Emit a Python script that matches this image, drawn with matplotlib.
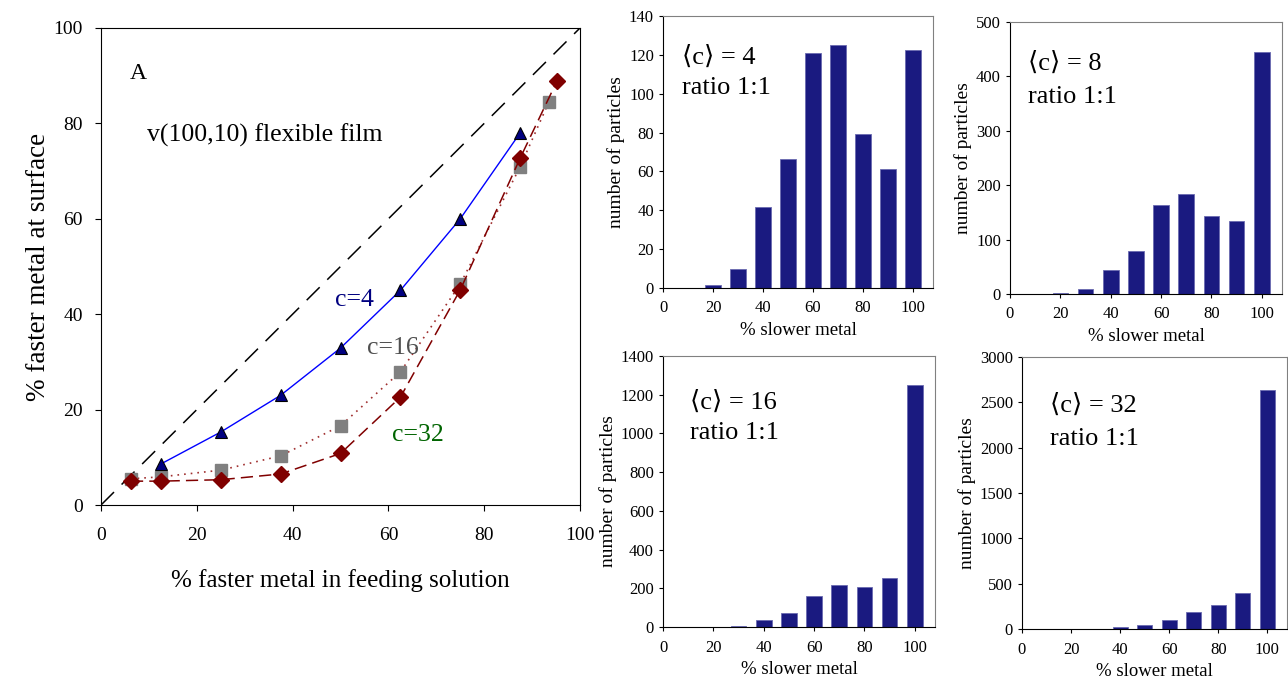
import numpy as np
import matplotlib.pyplot as plt

plt.rcParams['font.family'] = ['Liberation Serif', 'DejaVu Serif']

# left panel: % faster metal at surface vs feeding solution
x_c4 = [12.5, 25, 37.5, 50, 62.5, 75, 87.5]
y_c4 = [8.6, 15.3, 23.0, 32.9, 45.0, 60.0, 78.0]

x_c16 = [6.25, 12.5, 25, 37.5, 50, 62.5, 75, 87.5, 93.5]
y_c16 = [5.5, 5.9, 7.3, 10.3, 16.6, 27.9, 46.3, 70.9, 84.5]

x_c32 = [6.25, 12.5, 25, 37.5, 50, 62.5, 75, 87.5, 95.2]
y_c32 = [5.0, 5.0, 5.3, 6.5, 10.8, 22.6, 45.1, 72.7, 88.9]

# histograms: number of particles vs % slower metal
bins = [10, 20, 30, 40, 50, 60, 70, 80, 90, 100]
hist_c4 = [0, 1.7, 10, 41.5, 66.5, 121, 125, 79.5, 61.5, 122.3]
hist_c8 = [0, 2, 10, 45, 79, 163, 184, 144, 134, 445]
hist_c16 = [0, 0, 7, 34, 72, 158, 216, 208, 253, 1250]
hist_c32 = [0, 0, 1, 22, 44, 103, 191, 261, 393, 2640]

W, H = 1288, 678
fig = plt.figure(figsize=(W / 100, H / 100), dpi=100)


def box(l, t, r, b):
    return [l / W, 1 - b / H, (r - l) / W, (b - t) / H]


ax = fig.add_axes(box(101, 28, 580, 505))
ax.plot([0, 100], [0, 100], color='black', lw=1.1, dashes=(12, 7))
ax.plot(x_c4, y_c4, color='#0000ff', lw=1, marker='^', ms=9,
        mfc='#000080', mec='black', mew=0.8, zorder=4)
ax.plot(x_c16, y_c16, color='#a03030', lw=1.2, ls=(0, (1, 3)), marker='s',
        ms=8, mfc='#808080', mec='#808080', zorder=3)
ax.plot(x_c32, y_c32, color='#800000', lw=1.1, dashes=(8, 4), marker='D',
        ms=8, mfc='#800000', mec='#800000', zorder=5)
ax.set_xlim(0, 100)
ax.set_ylim(0, 100)
ax.set_xticks(range(0, 101, 20))
ax.set_yticks(range(0, 101, 20))
ax.tick_params(labelsize=14, direction='out', length=4)
ax.tick_params(axis='y', pad=9)
ax.tick_params(axis='x', pad=12)
ax.set_xlabel('% faster metal in feeding solution', fontsize=18, labelpad=18)
ax.set_ylabel('% faster metal at surface', fontsize=19.5, labelpad=2)
ax.text(6, 90.5, 'A', fontsize=17, va='center')
ax.text(9.6, 77.5, 'v(100,10) flexible film', fontsize=18.5, va='center')
ax.text(48.9, 43, 'c=4', fontsize=18.5, color='#000080', va='center')
ax.text(55.5, 33, 'c=16', fontsize=18.5, color='#505050', va='center')
ax.text(60.75, 14.7, 'c=32', fontsize=18.5, color='#006400', va='center')

panels = [
    (box(663, 16, 933, 288), hist_c4, 140, 20, '4', 0.07, 0.85, 0.735),
    (box(1010, 22, 1282, 294), hist_c8, 500, 100, '8', 0.066, 0.85, 0.724),
    (box(663, 356, 935, 627), hist_c16, 1400, 200, '16', 0.10, 0.83, 0.716),
    (box(1022, 357, 1287, 629), hist_c32, 3000, 500, '32', 0.105, 0.824, 0.70),
]

for rect, counts, ymax, ystep, cval, tx, ty1, ty2 in panels:
    hx = fig.add_axes(rect)
    hx.bar(bins, counts, width=6.2, color='#1a1a80', edgecolor='#6a6ab0',
           linewidth=0.6)
    hx.set_xlim(0, 108)
    hx.set_ylim(0, ymax)
    hx.set_xticks(range(0, 101, 20))
    hx.set_yticks(range(0, ymax + 1, ystep))
    hx.tick_params(labelsize=12, direction='out', length=3)
    hx.tick_params(axis='x', pad=6)
    for s in ('top', 'right'):
        hx.spines[s].set_color('#808080')
    hx.set_xlabel('% slower metal', fontsize=13.5, labelpad=4)
    hx.set_ylabel('number of particles', fontsize=14, labelpad=3)
    hx.text(tx, ty1, '\u27e8c\u27e9 = ' + cval, transform=hx.transAxes,
            fontsize=19, va='center')
    hx.text(tx, ty2, 'ratio 1:1', transform=hx.transAxes,
            fontsize=19, va='center')

fig.savefig('out.png', dpi=100)
